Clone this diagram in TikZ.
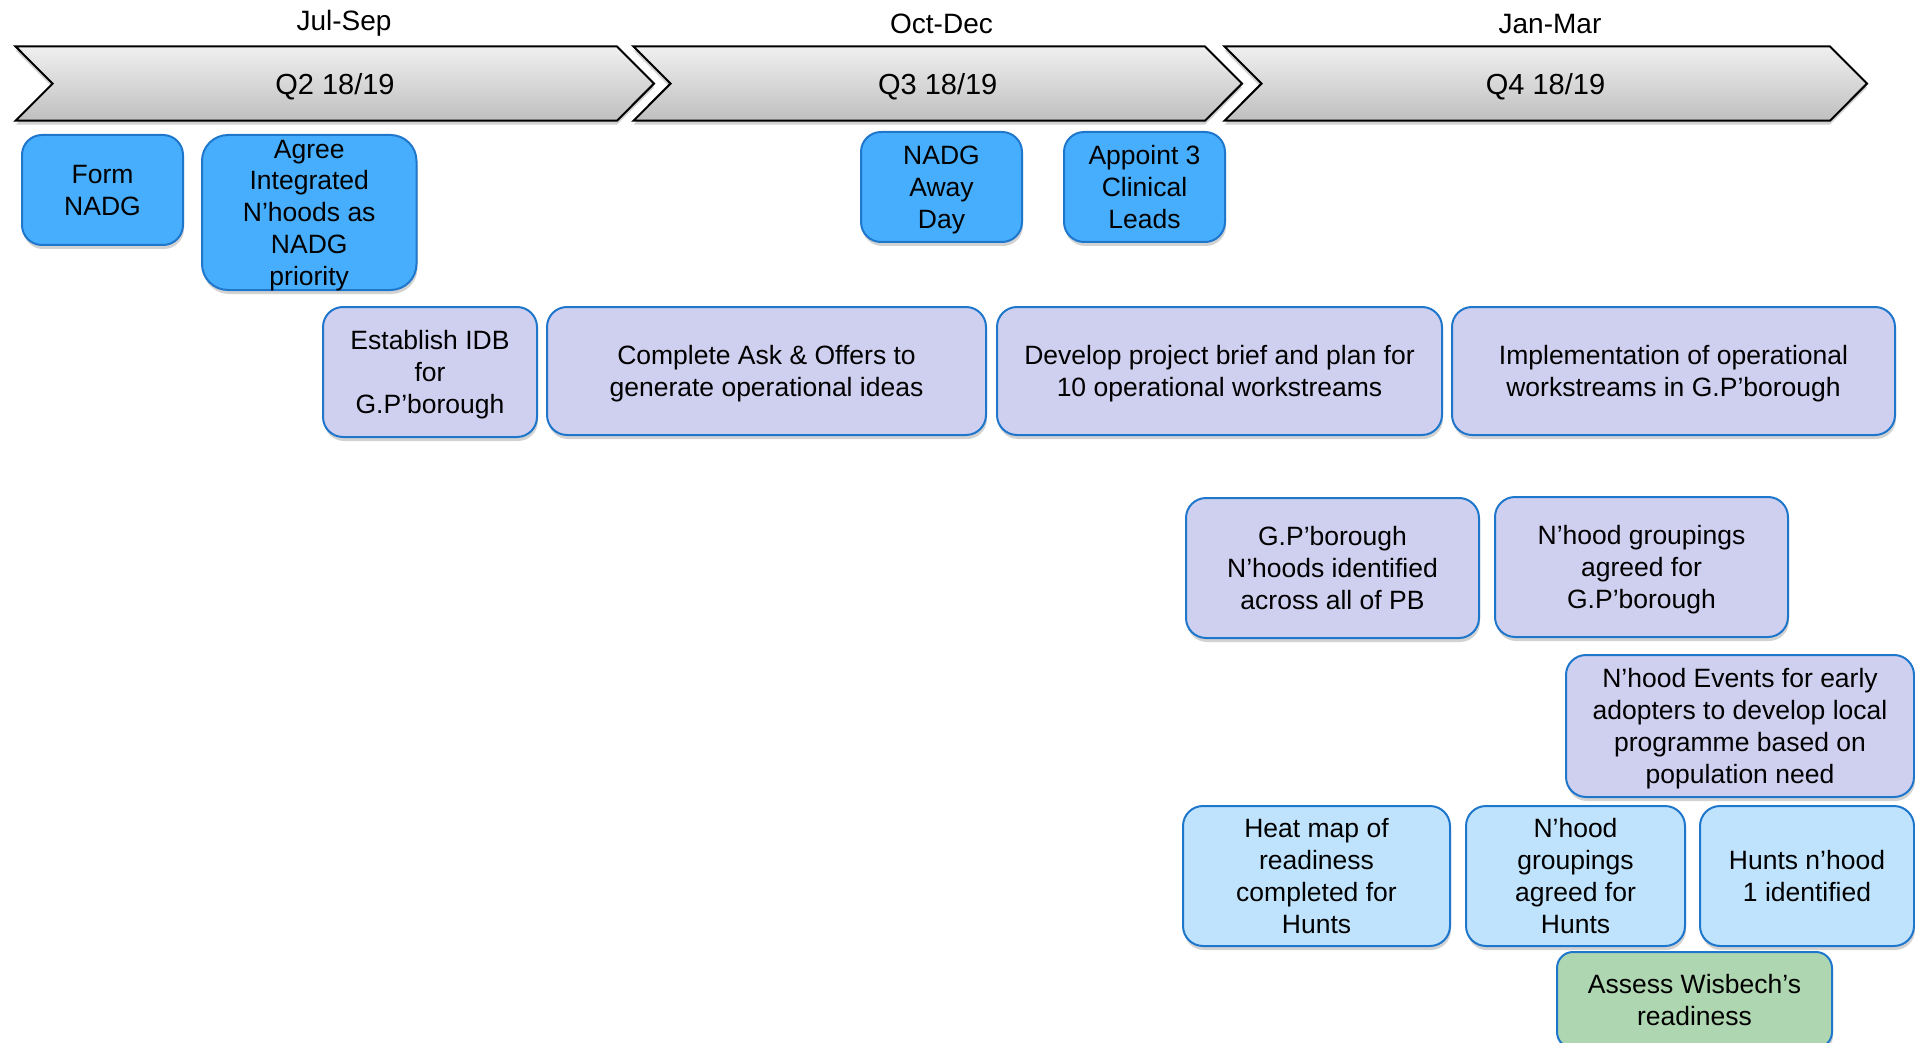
\documentclass[tikz,border=0pt]{standalone}
\usepackage{fontspec}
\setmainfont{Liberation Sans}
\usetikzlibrary{shadows}
\definecolor{nadgblue}{RGB}{71,174,253}
\definecolor{lilac}{RGB}{207,207,239}
\definecolor{paleblue}{RGB}{191,227,253}
\definecolor{sage}{RGB}{174,214,176}
\definecolor{rimblue}{RGB}{31,119,204}
\newcommand{\bodyfont}{\fontsize{26.5}{31.8}\selectfont}

\begin{document}
\begin{tikzpicture}[line join=round,x=1pt,y=-1pt,
	quarterbar/.style={draw=black,line width=2pt,line join=miter,top color=gray!12,bottom color=gray!50,
		drop shadow={shadow xshift=0pt,shadow yshift=-4pt,opacity=0.25,fill=black!70}},
	taskbox/.style={draw=rimblue,line width=2pt,rounded corners=20pt,align=center,inner sep=0pt,font=\bodyfont,text depth=0pt,
		drop shadow={shadow xshift=1pt,shadow yshift=-4pt,opacity=0.25,fill=black!70}},
	leadbox/.style={taskbox,fill=nadgblue},
	planbox/.style={taskbox,fill=lilac},
	huntsbox/.style={taskbox,fill=paleblue},
	wisbox/.style={taskbox,fill=sage}]
	\useasboundingbox (0,0) rectangle (1915,1043);
	\clip (0,0) rectangle (1915,1043);
	%%%%%%%%%%%%%%% Q U A R T E R S %%%%%%%%%%%%%%%%
	%Q2
	\draw [quarterbar] (15.6,46.5) -- (617,46.5) -- (654,83.6) -- (617,120.7) -- (15.6,120.7) -- (52.6,83.6) -- cycle;
	%Q3
	\draw [quarterbar] (633.5,46.5) -- (1205,46.5) -- (1242,83.6) -- (1205,120.7) -- (633.5,120.7) -- (670.5,83.6) -- cycle;
	%Q4
	\draw [quarterbar] (1224.5,46.5) -- (1830,46.5) -- (1867,83.6) -- (1830,120.7) -- (1224.5,120.7) -- (1261.5,83.6) -- cycle;
	%T A G S
	\node [font=\fontsize{28}{33}\selectfont,anchor=base] (julSep) at (344,30.5) {Jul-Sep};
	\node [font=\fontsize{28}{33}\selectfont,anchor=base] (octDec) at (941.5,33.5) {Oct-Dec};
	\node [font=\fontsize{28}{33}\selectfont,anchor=base] (janMar) at (1550,33.5) {Jan-Mar};
	\node [font=\fontsize{29}{34}\selectfont,anchor=base] (q2) at (335,94.5) {Q2 18/19};
	\node [font=\fontsize{29}{34}\selectfont,anchor=base] (q3) at (937.7,94.5) {Q3 18/19};
	\node [font=\fontsize{29}{34}\selectfont,anchor=base] (q4) at (1545.5,94.5) {Q4 18/19};
	%%%%%%%%%%%%%%% T A S K S %%%%%%%%%%%%%%%%
	%row 0
	\node [leadbox,minimum width=161pt,minimum height=110pt] (formNADG) at (102.5,190) {Form\\NADG};
	\node [leadbox,rounded corners=26pt,minimum width=214.5pt,minimum height=155pt] (agree) at (309.25,212.5) {Agree\\Integrated\\N’hoods as\\NADG\\priority};
	\node [leadbox,minimum width=161pt,minimum height=110pt] (awayDay) at (941.5,187) {NADG\\Away\\Day};
	\node [leadbox,minimum width=161pt,minimum height=110pt] (appoint) at (1144.5,187) {Appoint 3\\Clinical\\Leads};
	%row 1
	\node [planbox,minimum width=214pt,minimum height=130pt] (establish) at (430,372) {Establish IDB\\for\\G.P’borough};
	\node [planbox,minimum width=439pt,minimum height=128pt] (askOffers) at (766.5,371) {Complete Ask \& Offers to\\generate operational ideas};
	\node [planbox,minimum width=445pt,minimum height=128pt] (brief) at (1219.5,371) {Develop project brief and plan for\\10 operational workstreams};
	\node [planbox,minimum width=443pt,minimum height=128pt] (implement) at (1673.5,371) {Implementation of operational\\workstreams in G.P’borough};
	%row 2
	\node [planbox,minimum width=293pt,minimum height=140pt] (gpNhoods) at (1332.5,568) {G.P’borough\\N’hoods identified\\across all of PB};
	\node [planbox,minimum width=293pt,minimum height=140pt] (gpGroups) at (1641.5,567) {N’hood groupings\\agreed for\\G.P’borough};
	%row 3
	\node [planbox,minimum width=348pt,minimum height=142pt] (events) at (1740,726) {N’hood Events for early\\adopters to develop local\\programme based on\\population need};
	%row 4
	\node [huntsbox,minimum width=267pt,minimum height=140pt] (heatMap) at (1316.5,876) {Heat map of\\readiness\\completed for\\Hunts};
	\node [huntsbox,minimum width=219pt,minimum height=140pt] (huntsGroups) at (1575.5,876) {N’hood\\groupings\\agreed for\\Hunts};
	\node [huntsbox,minimum width=214pt,minimum height=140pt] (huntsOne) at (1807,876) {Hunts n’hood\\1 identified};
	%row 5
	\node [wisbox,rounded corners=16pt,minimum width=275pt,minimum height=96pt] (wisbech) at (1694.5,1000) {Assess Wisbech’s\\readiness};
\end{tikzpicture}
\end{document}
